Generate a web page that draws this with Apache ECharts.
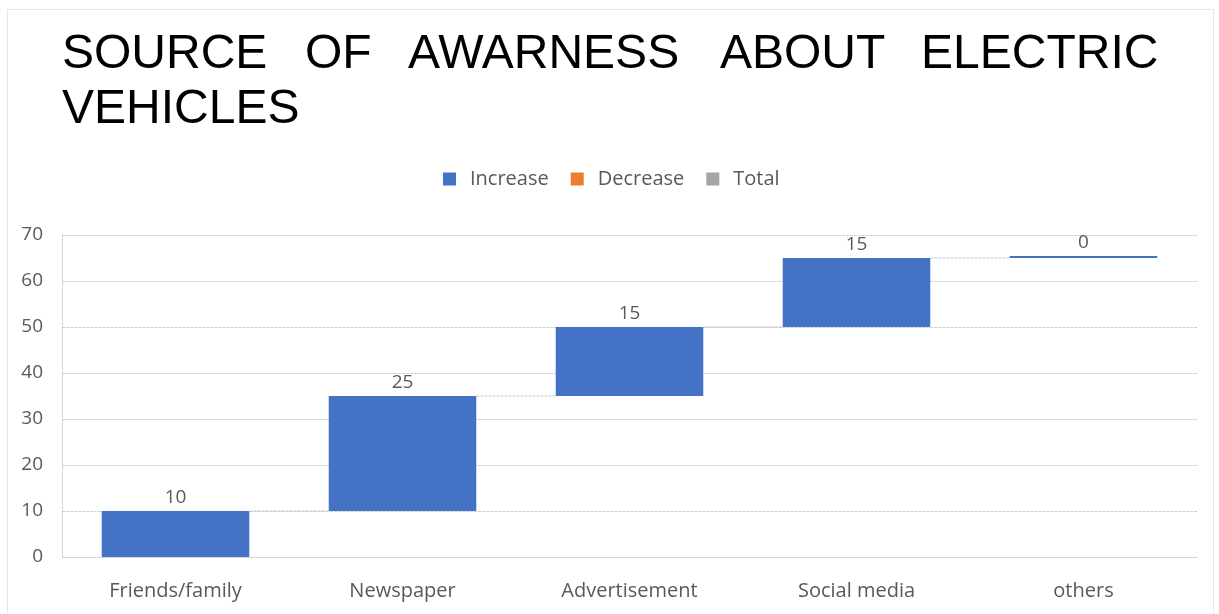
<!DOCTYPE html>
<html>
<head>
<meta charset="utf-8">
<script src="https://cdn.jsdelivr.net/npm/echarts@6/dist/echarts.min.js"></script>
<style>html,body{margin:0;padding:0;background:#fff;}#c{width:1219px;height:614px;}</style>
</head>
<body>
<div id="c"></div>
<script>
const categories = ['Friends/family', 'Newspaper', 'Advertisement', 'Social media', 'others'];
const increaseValues = [10, 25, 15, 15, 0];
const yTicks = [0, 10, 20, 30, 40, 50, 60, 70];
const titleWords = ['SOURCE', 'OF', 'AWARNESS', 'ABOUT', 'ELECTRIC'];
const titleLine2 = 'VEHICLES';
const legendNames = ['Increase', 'Decrease', 'Total'];

// running base for waterfall
const baseValues = [];
const endValues = [];
let run = 0;
for (let i = 0; i < increaseValues.length; i++) {
  baseValues.push(run);
  run += increaseValues[i];
  endValues.push(run);
}
const connectorData = endValues.slice(0, -1).map((v, i) => [i, v]);

const wordLeft = [62, 305, 408, 720, 921];
const titleStyle = { fontFamily: 'Liberation Sans', fontSize: 48, fontWeight: 'normal', color: '#000' };
const titles = titleWords.map((w, i) => ({
  text: w, left: wordLeft[i], top: 31, padding: 0, textStyle: titleStyle
}));
titles.push({ text: titleLine2, left: 62, top: 86, padding: 0, textStyle: titleStyle });

const gridLine = { color: '#d0d0d0', width: 1, type: [3, 1] };
const barRatio = 0.65;
const labelFont = 'Open Sans';

const chart = echarts.init(document.getElementById('c'), null, { renderer: 'canvas' });
chart.setOption({
  animation: false,
  backgroundColor: '#fff',
  title: titles,
  graphic: [{
    type: 'rect', silent: true,
    shape: { x: 7.5, y: 9.5, width: 1206, height: 612 },
    style: { fill: 'none', stroke: '#d9d9d9', lineWidth: 1, lineDash: [2, 1] }
  }],
  legend: {
    data: legendNames,
    top: 169, left: 443, padding: 0,
    icon: 'rect', itemWidth: 13, itemHeight: 13, itemGap: 22,
    textStyle: { fontFamily: labelFont, fontSize: 20, color: '#595959', padding: [0, 0, 0, 9] }
  },
  grid: { left: 62, right: 22, top: 235, bottom: 57, containLabel: false },
  xAxis: {
    type: 'category', data: categories,
    axisLine: { show: true, lineStyle: gridLine },
    axisTick: { show: false },
    axisLabel: { margin: 24, fontFamily: labelFont, fontSize: 20, color: '#595959' }
  },
  yAxis: {
    type: 'value', min: yTicks[0], max: yTicks[yTicks.length - 1], interval: 10,
    axisLine: { show: true, lineStyle: gridLine },
    axisTick: { show: false },
    splitLine: { show: true, lineStyle: gridLine },
    axisLabel: { margin: 19, fontFamily: labelFont, fontSize: 19, color: '#595959' }
  },
  series: [
    {
      name: 'base', type: 'bar', stack: 'wf', barWidth: (barRatio * 100) + '%',
      itemStyle: { color: 'transparent' }, silent: true,
      data: baseValues
    },
    {
      name: 'Increase', type: 'bar', stack: 'wf', barWidth: (barRatio * 100) + '%',
      barMinHeight: 2,
      itemStyle: { color: '#4472C4' },
      label: { show: true, position: 'top', distance: 4, fontFamily: labelFont, fontSize: 19, color: '#595959' },
      data: increaseValues
    },
    { name: 'Decrease', type: 'bar', stack: 'wf', itemStyle: { color: '#ED7D31' }, data: categories.map(() => '-') },
    { name: 'Total', type: 'bar', stack: 'wf', itemStyle: { color: '#A5A5A5' }, data: categories.map(() => '-') },
    {
      name: 'connector', type: 'custom', silent: true, z: 1,
      data: connectorData,
      renderItem: function (params, api) {
        const i = api.value(0);
        const v = api.value(1);
        const p1 = api.coord([i, v]);
        const p2 = api.coord([i + 1, v]);
        const half = api.size([1, 0])[0] * barRatio / 2;
        return {
          type: 'line',
          shape: { x1: p1[0] + half, y1: p1[1], x2: p2[0] - half, y2: p2[1] },
          style: { stroke: '#c8c8c8', lineWidth: 1, lineDash: [3, 1] }
        };
      }
    }
  ]
});
</script>
</body>
</html>
